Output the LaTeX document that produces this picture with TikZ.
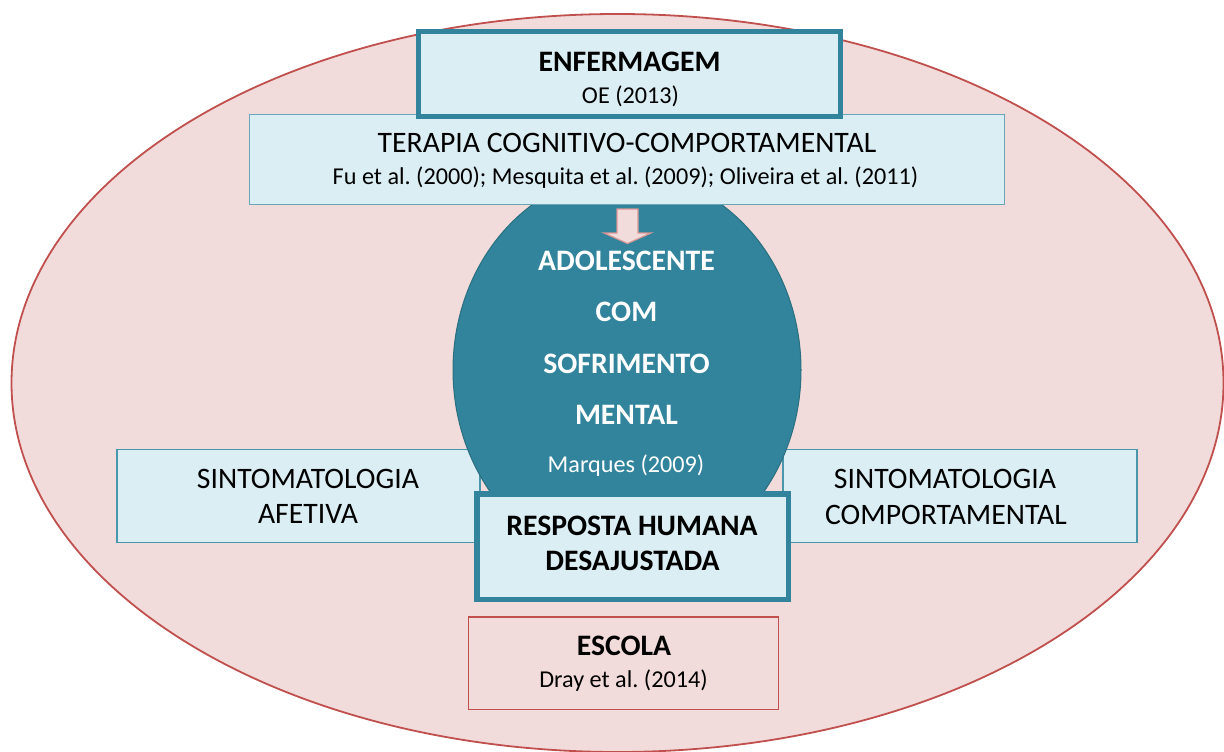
\documentclass[tikz,border=0pt]{standalone}
\usepackage{fontspec}
\setmainfont{Carlito}
\usetikzlibrary{shapes.geometric}
\frenchspacing
\definecolor{pinkfill}{HTML}{F2DCDB}
\definecolor{redline}{HTML}{C0504D}
\definecolor{lightblue}{HTML}{DBEEF4}
\definecolor{tealc}{HTML}{31849B}
\definecolor{tealdark}{HTML}{2A6F80}
\definecolor{terapialine}{HTML}{6AA6BA}
\definecolor{sideline}{HTML}{4A96AD}
\definecolor{arrowline}{HTML}{D99694}
\tikzset{
  box/.style={rectangle, inner sep=0pt, fill=lightblue},
  thickbox/.style={box, draw=tealc, line width=5.5pt},
  thinbox/.style={box, draw=terapialine, line width=1pt},
  sidebox/.style={box, draw=sideline, line width=1.6pt},
  schoolbox/.style={rectangle, inner sep=0pt, fill=pinkfill, draw=redline, line width=1.6pt},
  big/.style={anchor=base, inner sep=0pt, font=\fontsize{29.7}{34}\selectfont},
  bigb/.style={big, font=\fontsize{29.7}{34}\selectfont\bfseries},
  small/.style={anchor=base, inner sep=0pt, font=\fontsize{24.2}{28}\selectfont\frenchspacing},
}
\begin{document}
\begin{tikzpicture}[x=1pt,y=-1pt]
\useasboundingbox (0,0) rectangle (1224,752);
% outer ellipse
\node[ellipse, inner sep=0pt, minimum width=1212pt, minimum height=738pt, fill=pinkfill, draw=redline, line width=1.8pt] (outer) at (617.5,383) {};
% side boxes
\node[sidebox, minimum width=363pt, minimum height=93pt] (left) at (298.5,496) {};
\node[sidebox, minimum width=354.5pt, minimum height=93pt] (right) at (960,496) {};
% teal ellipse
\node[ellipse, inner sep=0pt, minimum width=348pt, minimum height=394pt, fill=tealc, draw=tealdark, line width=1pt] (adol) at (627,370) {};
% terapia box
\node[thinbox, minimum width=755pt, minimum height=90pt] (terapia) at (627,159) {};
% enfermagem box
\node[thickbox, minimum width=422pt, minimum height=85pt] (enf) at (629.5,74) {};
% resposta box
\node[thickbox, minimum width=311.5pt, minimum height=105.5pt] (resp) at (632.5,546.5) {};
% escola box
\node[schoolbox, minimum width=310pt, minimum height=92.5pt] (escola) at (623.5,663.25) {};
% block arrow
\draw[fill=pinkfill, draw=arrowline, line width=1.2pt, line join=miter]
  (617,209) -- (638,209) -- (638,233) -- (651,233) -- (627.5,243.5) -- (604,233) -- (617,233) -- cycle;
% texts
\node[bigb] (enf1) at (629.5,72) {ENFERMAGEM};
\node[small] (enf2) at (630.5,103) {OE (2013)};
\node[big] (ter1) at (627,152) {TERAPIA COGNITIVO-COMPORTAMENTAL};
\node[small] (ter2) at (625.5,184) {Fu et al. (2000); Mesquita et al. (2009); Oliveira et al. (2011)};
\node[bigb, text=white] (ad1) at (626.5,270) {ADOLESCENTE};
\node[bigb, text=white] (ad2) at (626.5,321.5) {COM};
\node[bigb, text=white] (ad3) at (626.5,373) {SOFRIMENTO};
\node[bigb, text=white] (ad4) at (626.5,424.5) {MENTAL};
\node[small, text=white] (ad5) at (626,472) {Marques (2009)};
\node[big] (l1) at (308,488) {SINTOMATOLOGIA};
\node[big] (l2) at (308,523) {AFETIVA};
\node[big] (r1) at (945,488) {SINTOMATOLOGIA};
\node[big] (r2) at (946,524) {COMPORTAMENTAL};
\node[bigb] (re1) at (632,535) {RESPOSTA HUMANA};
\node[bigb] (re2) at (632.5,570) {DESAJUSTADA};
\node[bigb] (es1) at (624,655) {ESCOLA};
\node[small] (es2) at (623.5,687) {Dray et al. (2014)};
\end{tikzpicture}
\end{document}
